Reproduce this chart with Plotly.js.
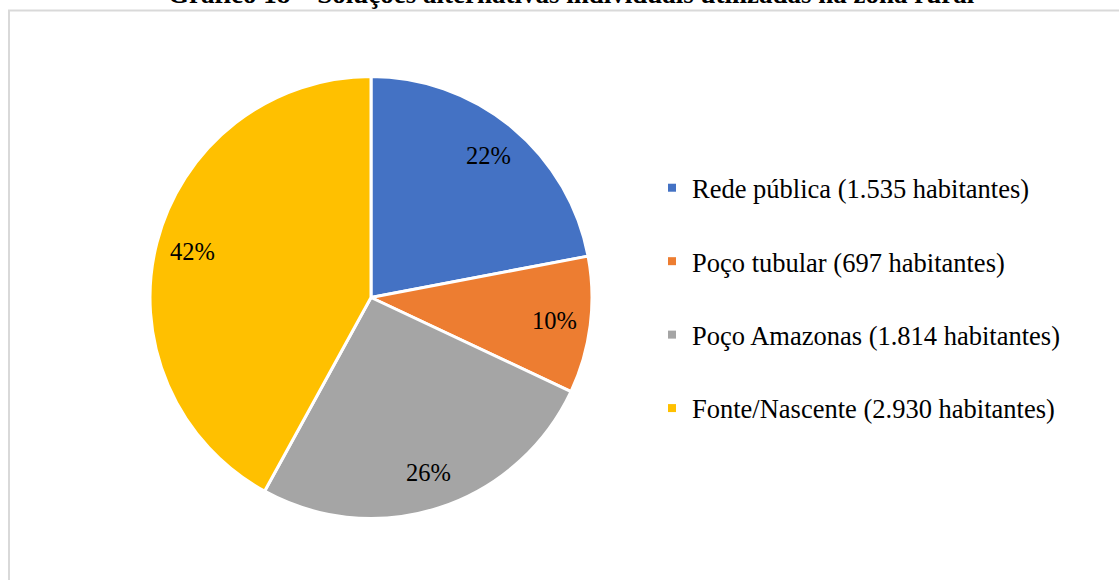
<!DOCTYPE html>
<html>
<head>
<meta charset="utf-8">
<script src="https://cdn.plot.ly/plotly-3.0.1.min.js"></script>
<style>html,body{margin:0;padding:0;background:#fff;}#chart{width:1119px;height:580px;}</style>
</head>
<body>
<div id="chart"></div>
<script>
const categories = ["Rede pública", "Poço tubular", "Poço Amazonas", "Fonte/Nascente"];
const habitantes = [1535, 697, 1814, 2930];
const habitantesLabel = ["1.535", "697", "1.814", "2.930"];
const colors = ["#4472C4", "#ED7D31", "#A5A5A5", "#FFC000"];
const titleText = "Gráfico 18 – Soluções alternativas individuais utilizadas na zona rural";

const W = 1119, H = 580;
const FONT = "Liberation Serif, Times New Roman, serif";
const legendNames = categories.map((c, i) => c + " (" + habitantesLabel[i] + " habitantes)");

// pie placement (pixels)
const pieL = 150, pieR = 592, pieT = 76, pieB = 519;
const cx = (pieL + pieR) / 2, cy = (pieT + pieB) / 2;
const R = Math.min(pieR - pieL, pieB - pieT) / 2;

const pie = {
  type: "pie",
  labels: legendNames,
  values: habitantes,
  sort: false,
  direction: "clockwise",
  rotation: 0,
  marker: {colors: colors, line: {color: "#ffffff", width: 3}},
  textinfo: "none",
  showlegend: false,
  hoverinfo: "label+value+percent",
  domain: {x: [pieL / W, pieR / W], y: [(H - pieB) / H, (H - pieT) / H]}
};

// percentage labels placed at each slice's mid-angle, derived from the values
const total = habitantes.reduce((a, b) => a + b, 0);
let cum = 0;
const pctAnnotations = habitantes.map((v) => {
  const mid = (cum + v / 2) / total * 2 * Math.PI;
  cum += v;
  const r = 0.835 * R;
  const px = cx + r * Math.sin(mid), py = cy - r * Math.cos(mid);
  return {
    text: Math.round(v / total * 100) + "%",
    xref: "paper", yref: "paper",
    x: px / W, y: (H - py) / H,
    xanchor: "center", yanchor: "middle",
    showarrow: false,
    font: {family: FONT, size: 24.5, color: "#000000"}
  };
});

// legend entries (one per category), spaced like the original
const legendTraces = categories.map((c, i) => ({
  type: "scatter",
  mode: "markers",
  x: [null], y: [null],
  name: legendNames[i],
  legendgroup: "g" + i,
  marker: {symbol: "square", size: 8, color: colors[i]},
  hoverinfo: "skip"
}));

const layout = {
  width: W, height: H,
  margin: {l: 0, r: 0, t: 0, b: 0},
  paper_bgcolor: "#ffffff",
  plot_bgcolor: "#ffffff",
  font: {family: FONT, color: "#000000"},
  xaxis: {visible: false},
  yaxis: {visible: false},
  showlegend: true,
  legend: {
    x: 652 / W, xanchor: "left",
    y: (H - 164) / H, yanchor: "top",
    traceorder: "grouped",
    tracegroupgap: 36,
    font: {family: FONT, size: 26.5, color: "#000000"},
    bgcolor: "rgba(0,0,0,0)"
  },
  annotations: [{
    text: "<b>" + titleText + "</b>",
    xref: "paper", yref: "paper",
    x: 571.5 / W, xanchor: "center",
    y: (H - 11.3) / H, yanchor: "bottom",
    showarrow: false,
    font: {family: FONT, size: 27, color: "#000000"}
  }].concat(pctAnnotations),
  shapes: [{
    type: "rect", xref: "paper", yref: "paper",
    x0: 9 / W, x1: 1.05, y0: -0.05, y1: (H - 10.5) / H,
    line: {color: "#d9d9d9", width: 2},
    fillcolor: "rgba(0,0,0,0)", layer: "below"
  }]
};

Plotly.newPlot("chart", [pie].concat(legendTraces), layout, {displayModeBar: false, staticPlot: true});
</script>
</body>
</html>
